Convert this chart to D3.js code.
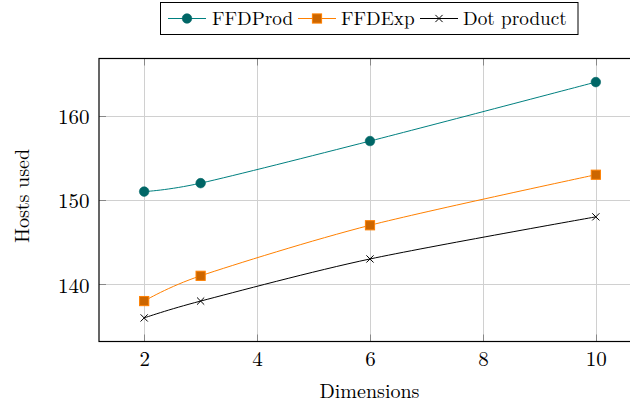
<!DOCTYPE html>
<html><head><meta charset="utf-8">
<script src="https://cdn.jsdelivr.net/npm/d3@7"></script>
<style>body{margin:0;background:#fff}svg{display:block}</style>
</head><body><svg id="c" width="630" height="405"></svg>
<script>
const dimensions = [2, 3, 6, 10];
const ffdProd = [151, 152, 157, 164];
const ffdExp = [138, 141, 147, 153];
const dotProduct = [136, 138, 143, 148];
const seriesNames = ["FFDProd", "FFDExp", "Dot product"];
const xTicks = [2, 4, 6, 8, 10];
const yTicks = [140, 150, 160];

const FONT = "'Latin Modern Roman', 'Liberation Serif', serif";
const svg = d3.select("#c");
const L = 99, R = 641, T = 58.5, B = 341.5;
const x = d3.scaleLinear().domain([1.2, 10.8]).range([L, R]);
const y = d3.scaleLinear().domain([133.2, 166.8]).range([B, T]);

const g = svg.append("g");
g.selectAll(".gx").data(xTicks).join("line")
  .attr("x1", d => Math.round(x(d)) + 0.5).attr("x2", d => Math.round(x(d)) + 0.5)
  .attr("y1", T).attr("y2", B).attr("stroke", "#d0d0d0").attr("stroke-width", 1);
g.selectAll(".gy").data(yTicks).join("line")
  .attr("y1", d => Math.round(y(d)) + 0.5).attr("y2", d => Math.round(y(d)) + 0.5)
  .attr("x1", L).attr("x2", R).attr("stroke", "#d0d0d0").attr("stroke-width", 1);
const tk = 7;
g.selectAll(".tb").data(xTicks).join("line")
  .attr("x1", d => Math.round(x(d)) + 0.5).attr("x2", d => Math.round(x(d)) + 0.5)
  .attr("y1", B).attr("y2", B - tk).attr("stroke", "#888").attr("stroke-width", 1);
g.selectAll(".tt").data(xTicks).join("line")
  .attr("x1", d => Math.round(x(d)) + 0.5).attr("x2", d => Math.round(x(d)) + 0.5)
  .attr("y1", T).attr("y2", T + tk).attr("stroke", "#888").attr("stroke-width", 1);
g.selectAll(".tl").data(yTicks).join("line")
  .attr("y1", d => Math.round(y(d)) + 0.5).attr("y2", d => Math.round(y(d)) + 0.5)
  .attr("x1", L).attr("x2", L + tk).attr("stroke", "#888").attr("stroke-width", 1);
g.append("rect").attr("x", L).attr("y", T).attr("width", R - L).attr("height", B - T)
  .attr("fill", "none").attr("stroke", "#000").attr("stroke-width", 1.2);

const xAxis = d3.axisBottom(x).tickValues(xTicks).tickSize(0);
const ax = svg.append("g").attr("transform", `translate(0,${B})`).call(xAxis);
ax.select(".domain").remove();
ax.selectAll("text").attr("y", 24).attr("dy", 0)
  .style("font-family", FONT).style("font-size", "21px").attr("fill", "#000");
const yAxis = d3.axisLeft(y).tickValues(yTicks).tickSize(0).tickPadding(9.5);
const ay = svg.append("g").attr("transform", `translate(${L},0)`).call(yAxis);
ay.select(".domain").remove();
ay.selectAll("text").attr("dy", "0.37em")
  .style("font-family", FONT).style("font-size", "21px").attr("fill", "#000");

svg.append("text").attr("x", 369.5).attr("y", 398).attr("text-anchor", "middle")
  .style("font-family", FONT).style("font-size", "20px").text("Dimensions");
svg.append("text").attr("transform", `translate(29,196) rotate(-90)`)
  .attr("text-anchor", "middle").style("font-family", FONT).style("font-size", "20px").text("Hosts used");

const series = [
  {name: seriesNames[0], vals: ffdProd, line: "#008080", fill: "#006666", stroke: "#006666", mark: "circle"},
  {name: seriesNames[1], vals: ffdExp, line: "#ff8000", fill: "#cc6600", stroke: "#ff8000", mark: "square"},
  {name: seriesNames[2], vals: dotProduct, line: "#000", fill: "none", stroke: "#000", mark: "cross"}
];
const lineGen = d3.line().x(d => x(d[0])).y(d => y(d[1])).curve(d3.curveCardinal.tension(0.15));

function drawMark(sel, s, cx, cy) {
  if (s.mark === "circle") {
    sel.append("circle").attr("cx", cx).attr("cy", cy).attr("r", 4.8).attr("fill", s.fill).attr("stroke", s.stroke).attr("stroke-width", 0.6);
  } else if (s.mark === "square") {
    sel.append("rect").attr("x", cx - 4.6).attr("y", cy - 4.6).attr("width", 9.2).attr("height", 9.2)
      .attr("fill", s.fill).attr("stroke", s.stroke).attr("stroke-width", 1);
  } else {
    const r = 3.6;
    sel.append("path").attr("d", `M${cx - r},${cy - r}L${cx + r},${cy + r}M${cx - r},${cy + r}L${cx + r},${cy - r}`)
      .attr("stroke", s.stroke).attr("stroke-width", 1).attr("fill", "none");
  }
}

const plot = svg.append("g");
series.forEach(s => {
  const pts = dimensions.map((d, i) => [d, s.vals[i]]);
  plot.append("path").attr("d", lineGen(pts)).attr("fill", "none").attr("stroke", s.line).attr("stroke-width", 1);
  pts.forEach(p => drawMark(plot, s, x(p[0]), y(p[1])));
});

const lg = svg.append("g");
lg.append("rect").attr("x", 160.5).attr("y", 2.5).attr("width", 417.5).attr("height", 32)
  .attr("fill", "#fff").attr("stroke", "#000").attr("stroke-width", 1);
const lx = [168, 298, 420];
const tx = [212, 341, 463];
const ly = 18.5;
series.forEach((s, i) => {
  lg.append("line").attr("x1", lx[i]).attr("x2", lx[i] + 38).attr("y1", ly).attr("y2", ly)
    .attr("stroke", s.line).attr("stroke-width", 1);
  drawMark(lg, s, lx[i] + 19, ly);
  lg.append("text").attr("x", tx[i]).attr("y", 25)
    .style("font-family", FONT).style("font-size", "19.2px").text(s.name);
});
</script></body></html>
